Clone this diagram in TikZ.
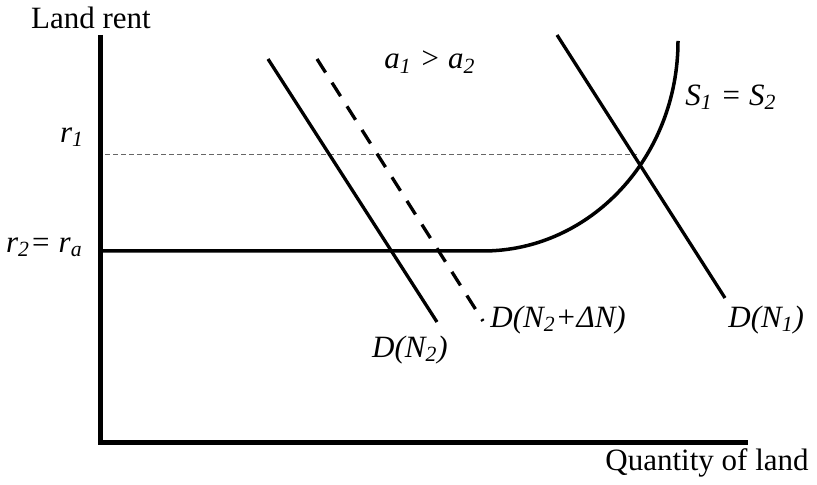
\documentclass[tikz,border=0pt]{standalone}
\usepackage{fontspec}
\setmainfont{Liberation Serif}
\usepackage{tikz}
\usetikzlibrary{positioning,calc}
\tikzset{
  axisline/.style = {line width=2.5pt, line join=miter},
  demand/.style   = {line width=1.65pt},
  supply/.style   = {line width=1.75pt},
  guide/.style    = {line width=0.5pt, gray!80!black, dash pattern=on 2.5pt off 1.5pt},
  lbl/.style      = {inner sep=0pt, font=\fontsize{15.5}{18}\selectfont\itshape},
}
\newcommand{\sbs}[1]{\textsubscript{#1}}

\begin{document}
\begin{tikzpicture}[x=0.5pt, y=0.5pt,
   font=\fontsize{15.5}{18}\selectfont]
\useasboundingbox (0,0) rectangle (817,485);
% axes
\coordinate (ytop) at (100,450);
\coordinate (orig) at (100,42);
\coordinate (xend) at (748,42);
\draw[axisline] (ytop) -- (orig) -- (xend);
\node[inner sep=0pt] (ylab) at (91,467) {Land rent};
\node[inner sep=0pt, anchor=east] (xlab) at (809,22) {Quantity of land};
% rents
\node[lbl] (r1) at (72,348) {r\sbs{1}};
\node[lbl, anchor=east] (r2) at (83,238) {r\sbs{2}= r\sbs{a}};
\coordinate (g0) at (105,330);
\coordinate (g1) at (637,330);
\draw[guide] (g0) -- (g1);
% supply
\coordinate (s0) at (103,234);
\coordinate (s1) at (483,234);
\draw[supply] (s0) -- (s1) arc[start angle=-90, end angle=0, x radius=195, y radius=210];
\node[lbl, anchor=west] (slab) at (685,388) {S\sbs{1} = S\sbs{2}};
% demand
\coordinate (d2a) at (268,426);
\coordinate (d2b) at (437,163);
\draw[demand] (d2a) -- (d2b);
\coordinate (d3a) at (317,426);
\coordinate (d3b) at (483,164);
\draw[demand, dash pattern=on 8pt off 6pt] (d3a) -- (d3b);
\coordinate (d1a) at (557,450);
\coordinate (d1b) at (725,187);
\draw[demand] (d1a) -- (d1b);
\node[lbl] (n2) at (410,135) {D(N\sbs{2})};
\node[lbl, anchor=west] (n3) at (490,165) {D(N\sbs{2}+ΔN)};
\node[lbl, anchor=west] (n1) at (728,165) {D(N\sbs{1})};
\node[lbl] (alab) at (430,423) {a\sbs{1} > a\sbs{2}};
\end{tikzpicture}
\end{document}
